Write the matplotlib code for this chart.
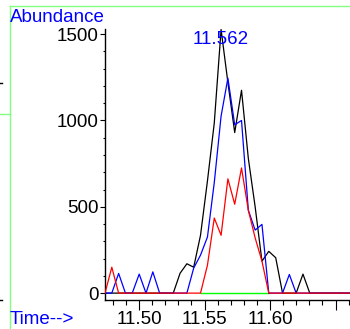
import matplotlib
matplotlib.use("Agg")
import matplotlib.pyplot as plt
from matplotlib.lines import Line2D
from matplotlib.ticker import MultipleLocator, FixedLocator, FixedFormatter

plt.rcParams['font.family'] = ['Liberation Sans', 'DejaVu Sans']

# ========== data ==========
times = [11.4740, 11.4792, 11.4844, 11.4896, 11.4948, 11.5001, 11.5053, 11.5105,
         11.5157, 11.5209, 11.5261, 11.5313, 11.5365, 11.5417, 11.5469, 11.5522,
         11.5574, 11.5626, 11.5678, 11.5730, 11.5782, 11.5834, 11.5886, 11.5938,
         11.5990, 11.6043, 11.6095, 11.6147, 11.6199, 11.6251, 11.6303, 11.6355,
         11.6407, 11.6459, 11.6511, 11.6564, 11.6616, 11.6668]

tic = [0, 0, 0, 0, 0, 0, 0, 0, 0, 0, 0, 115, 170, 150, 335, 650,
       985, 1527, 1220, 930, 1175, 780, 500, 185, 242, 205, 0, 0,
       0, 110, 0, 0, 0, 0, 0, 0, 0, 0]
ion_blue = [0, 0, 114, 0, 0, 110, 0, 123, 0, 0, 0, 0, 0, 145, 220, 325,
            640, 1025, 1245, 975, 1000, 480, 365, 398, 0, 0, 0, 108,
            0, 0, 0, 0, 0, 0, 0, 0, 0, 0]
ion_red = [0, 150, 0, 0, 0, 0, 0, 0, 0, 0, 0, 0, 0, 0, 0, 162,
           435, 335, 662, 515, 725, 480, 320, 185, 0, 0, 0, 0,
           0, 0, 0, 0, 0, 0, 0, 0, 0, 0]

baseline_start = 11.5469
baseline_end = 11.5990

peak_time = 11.5626
peak_label = "11.562"

x_major = [11.50, 11.55, 11.60, 11.65]
x_labels = ["11.50", "11.55", "11.60", ""]
y_major = [0, 500, 1000, 1500]
y_labels = ["0", "500", "1000", "1500"]

FS = 13.5

# ========== figure ==========
fig = plt.figure(figsize=(3.5, 3.29), dpi=100)
ax = fig.add_axes([0.30, 0.0881, 0.70, 0.8238])

ax.plot([baseline_start, baseline_end], [0, 0], color='#00ff00', lw=1.0, zorder=1)
ax.plot(times, tic, color='black', lw=0.9, zorder=2)
ax.plot(times, ion_blue, color='#0000ff', lw=0.9, zorder=3)
ax.plot(times, ion_red, color='#ff0000', lw=0.9, zorder=4)

ax.text(peak_time, 1468, peak_label, color='#0000ff', fontsize=FS,
        ha='center', va='center', zorder=5)

ax.set_xlim(11.474, 11.661)
ax.set_ylim(-40, 1530)

for side in ['top', 'right']:
    ax.spines[side].set_visible(False)
ax.spines['left'].set_linewidth(1.0)
ax.spines['bottom'].set_linewidth(1.0)

ax.xaxis.set_major_locator(FixedLocator(x_major))
ax.xaxis.set_major_formatter(FixedFormatter(x_labels))
ax.xaxis.set_minor_locator(MultipleLocator(0.01))
ax.yaxis.set_major_locator(FixedLocator(y_major))
ax.yaxis.set_major_formatter(FixedFormatter(y_labels))
ax.yaxis.set_minor_locator(MultipleLocator(100))

ax.tick_params(axis='x', which='major', length=7.0, width=0.8, labelsize=FS, pad=1.0)
ax.tick_params(axis='x', which='minor', length=3.5, width=0.8)
ax.tick_params(axis='y', which='major', length=3.5, width=0.8, labelsize=FS, pad=1)
ax.tick_params(axis='y', which='minor', length=1.5, width=0.8)

# labels outside the axes
fig.text(10 / 350, 1 - 17 / 329, "Abundance", color='#0000ff', fontsize=FS,
         ha='left', va='center')
fig.text(10 / 350, 1 - 320 / 329, "Time-->", color='#0000ff', fontsize=FS,
         ha='left', va='center')

# window frame remnants
frame_green = '#80ff80'
fig.add_artist(Line2D([10 / 350, 1.0], [1 - 6 / 329, 1 - 6 / 329],
                      color=frame_green, lw=1.0, transform=fig.transFigure))
fig.add_artist(Line2D([10 / 350, 10 / 350], [0, 1 - 6 / 329],
                      color=frame_green, lw=1.0, transform=fig.transFigure))
fig.add_artist(Line2D([0, 10 / 350], [1 - 114 / 329, 1 - 114 / 329],
                      color=frame_green, lw=1.0, transform=fig.transFigure))
fig.add_artist(Line2D([0, 2 / 350], [1 - 83 / 329, 1 - 83 / 329],
                      color='black', lw=1.0, transform=fig.transFigure))
fig.add_artist(Line2D([0, 2 / 350], [1 - 300 / 329, 1 - 300 / 329],
                      color='black', lw=1.0, transform=fig.transFigure))

fig.savefig("out.png", dpi=100)
